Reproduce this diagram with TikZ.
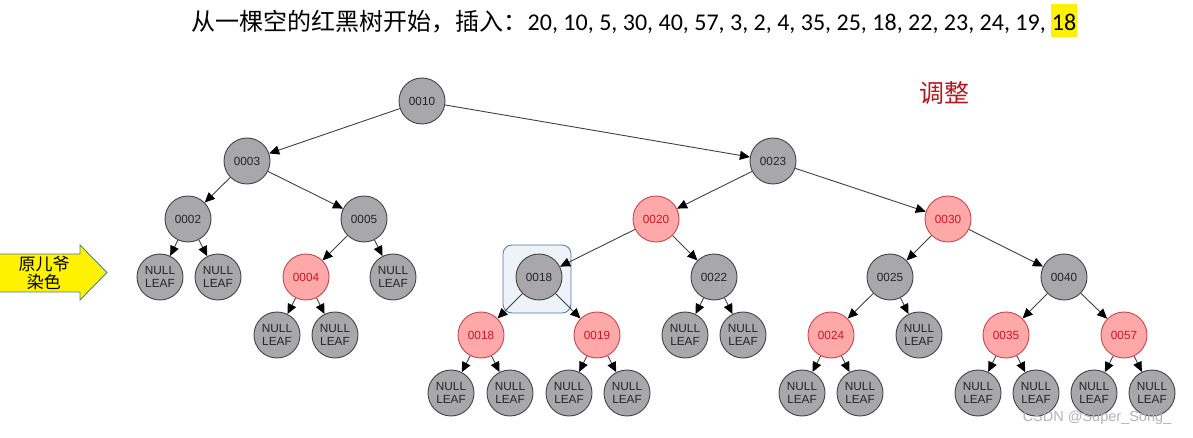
\documentclass[tikz,border=0pt]{standalone}
\usepackage{fontspec}
\setmainfont{Carlito}
\newfontfamily\cjk{Noto Sans CJK SC}
\newfontfamily\nodefont{Liberation Sans}
\usetikzlibrary{%
  arrows.meta,% Triangle tips
  positioning%
}
\definecolor{nodegray}{RGB}{168,167,170}
\definecolor{nodeline}{RGB}{66,66,68}
\definecolor{redfill}{RGB}{255,168,170}
\definecolor{redline}{RGB}{196,70,74}
\definecolor{redtext}{RGB}{196,24,36}
\definecolor{titlered}{RGB}{178,24,32}
\definecolor{boxline}{RGB}{70,120,170}
\definecolor{boxfill}{RGB}{238,243,250}
\definecolor{arrowline}{RGB}{70,130,150}

\begin{document}
\begin{tikzpicture}[x=1pt,y=-1pt,blacknode/.style={
	circle,
	minimum size=46pt,
	inner sep=0pt,
	line width=0.9pt,
	draw=nodeline,
	fill=nodegray,
	text=black!85,
	font=\nodefont\fontsize{11.8}{13.8}\selectfont
	},rednode/.style={
	blacknode,draw=redline,fill=redfill,text=redtext
	},leaf/.style={
	blacknode,align=center
	},hlbox/.style={
	rectangle,rounded corners=9pt,minimum size=68pt,
	line width=0.8pt,draw=boxline,fill=boxfill
	},link/.style={
	-{Triangle[length=10pt,width=9pt,black]},line width=0.9pt,draw=black!75
	}
]
\useasboundingbox (0,0) rectangle (1193,438);

% heading
\setlength{\fboxsep}{1pt}
\node (title) [anchor=base,inner sep=0pt] at (634.5,31) {\fontsize{24}{29}\selectfont{\cjk 从一棵空的红黑树开始，插入：}20, 10, 5, 30, 40, 57, 3, 2, 4, 35, 25, 18, 22, 23, 24, 19, \colorbox{yellow}{\rule[-5.5pt]{0pt}{31pt}18}};
\node (step) [text=titlered,font=\cjk\fontsize{25}{28}\selectfont] at (944,93) {调整};

% side arrow
\draw[line width=0.9pt,draw=arrowline,fill=yellow] (-2,254) -- (80,254) -- (80,245) -- (107,272.5) -- (80,300) -- (80,292) -- (-2,292) -- cycle;
\node (recolor) [align=center,font=\cjk\fontsize{17}{18.5}\selectfont] at (44,273) {原儿爷\\染色};

\node (focus) [hlbox] at (537,279) {};

% First row
\node (atom10) [blacknode] at (422,101) {0010};
\node (atom3) [blacknode] at (247,161) {0003};
\node (atom23) [blacknode] at (773,161) {0023};
% Second row
\node (atom2) [blacknode] at (188,219) {0002};
\node (atom5) [blacknode] at (364,219) {0005};
\node (atom20) [rednode] at (656,219) {0020};
\node (atom30) [rednode] at (948,219) {0030};
% Third row
\node (leaf2a) [leaf] at (160,277) {NULL\\LEAF};
\node (leaf2b) [leaf] at (218,277) {NULL\\LEAF};
\node (atom4) [rednode] at (306,277) {0004};
\node (leaf5) [leaf] at (393,277) {NULL\\LEAF};
\node (atom18) [blacknode] at (539,277) {0018};
\node (atom22) [blacknode] at (714,277) {0022};
\node (atom25) [blacknode] at (890,277) {0025};
\node (atom40) [blacknode] at (1064,277) {0040};
% Fourth row
\node (leaf4a) [leaf] at (277,335) {NULL\\LEAF};
\node (leaf4b) [leaf] at (335,335) {NULL\\LEAF};
\node (atom18r) [rednode] at (481,335) {0018};
\node (atom19) [rednode] at (597,335) {0019};
\node (leaf22a) [leaf] at (685,335) {NULL\\LEAF};
\node (leaf22b) [leaf] at (743,335) {NULL\\LEAF};
\node (atom24) [rednode] at (831,335) {0024};
\node (leaf25) [leaf] at (919,335) {NULL\\LEAF};
\node (atom35) [rednode] at (1006,335) {0035};
\node (atom57) [rednode] at (1124,335) {0057};
% Fifth row
\node (leaf18a) [leaf] at (451,393) {NULL\\LEAF};
\node (leaf18b) [leaf] at (510,393) {NULL\\LEAF};
\node (leaf19a) [leaf] at (569,393) {NULL\\LEAF};
\node (leaf19b) [leaf] at (627,393) {NULL\\LEAF};
\node (leaf24a) [leaf] at (802,393) {NULL\\LEAF};
\node (leaf24b) [leaf] at (860,393) {NULL\\LEAF};
\node (leaf35a) [leaf] at (978,393) {NULL\\LEAF};
\node (leaf35b) [leaf] at (1036,393) {NULL\\LEAF};
\node (leaf57a) [leaf] at (1094,393) {NULL\\LEAF};
\node (leaf57b) [leaf] at (1152,393) {NULL\\LEAF};

\node (mark) [text=black!30,font=\nodefont\fontsize{14.5}{16}\selectfont] at (1097,418) {CSDN @Super\_Song\_};

\draw	(atom10) edge[link] (atom3);
\draw	(atom10) edge[link] (atom23);
\draw	(atom3) edge[link] (atom2);
\draw	(atom3) edge[link] (atom5);
\draw	(atom23) edge[link] (atom20);
\draw	(atom23) edge[link] (atom30);
\draw	(atom2) edge[link] (leaf2a);
\draw	(atom2) edge[link] (leaf2b);
\draw	(atom5) edge[link] (atom4);
\draw	(atom5) edge[link] (leaf5);
\draw	(atom20) edge[link] (atom18);
\draw	(atom20) edge[link] (atom22);
\draw	(atom30) edge[link] (atom25);
\draw	(atom30) edge[link] (atom40);
\draw	(atom4) edge[link] (leaf4a);
\draw	(atom4) edge[link] (leaf4b);
\draw	(atom18) edge[link] (atom18r);
\draw	(atom18) edge[link] (atom19);
\draw	(atom22) edge[link] (leaf22a);
\draw	(atom22) edge[link] (leaf22b);
\draw	(atom25) edge[link] (atom24);
\draw	(atom25) edge[link] (leaf25);
\draw	(atom40) edge[link] (atom35);
\draw	(atom40) edge[link] (atom57);
\draw	(atom18r) edge[link] (leaf18a);
\draw	(atom18r) edge[link] (leaf18b);
\draw	(atom19) edge[link] (leaf19a);
\draw	(atom19) edge[link] (leaf19b);
\draw	(atom24) edge[link] (leaf24a);
\draw	(atom24) edge[link] (leaf24b);
\draw	(atom35) edge[link] (leaf35a);
\draw	(atom35) edge[link] (leaf35b);
\draw	(atom57) edge[link] (leaf57a);
\draw	(atom57) edge[link] (leaf57b);

\end{tikzpicture}
\end{document}
